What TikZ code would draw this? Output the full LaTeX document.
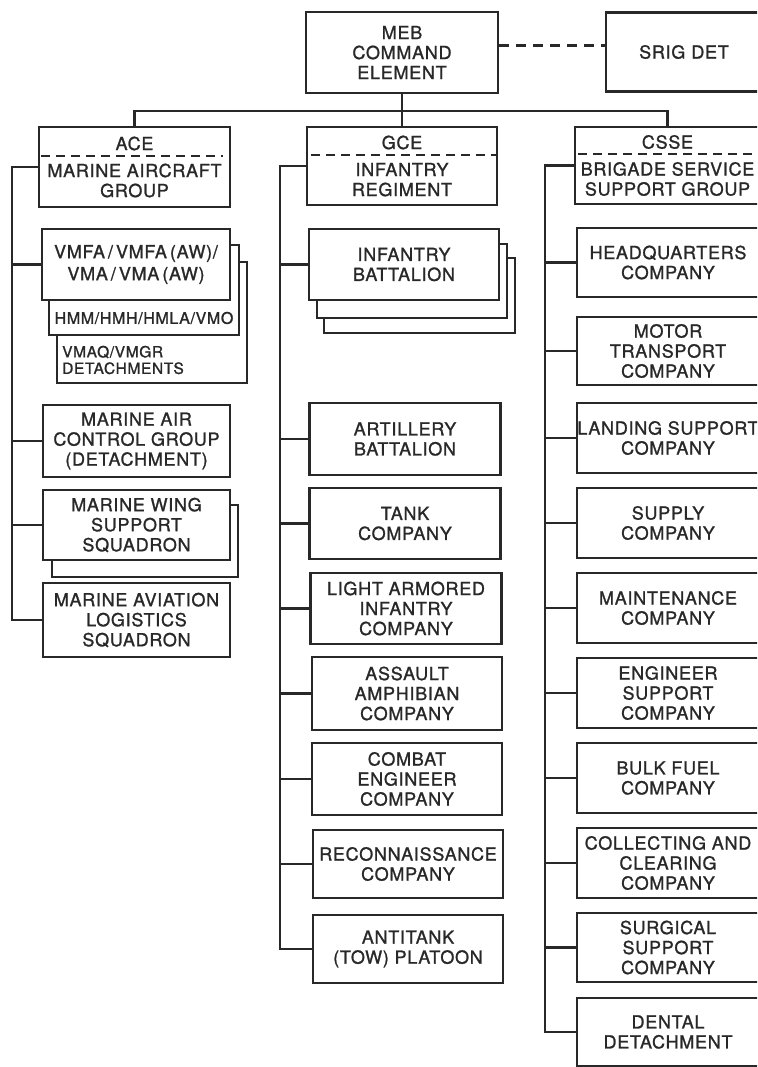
\documentclass[tikz,border=0pt]{standalone}
\usepackage{fontspec}
\setmainfont{TeX Gyre Heros}[FakeBold=1.2, LetterSpace=4]
\definecolor{ink}{RGB}{40,40,40}
\begin{document}
\begin{tikzpicture}[x=1pt,y=-1pt,
  box/.style={draw=ink, line width=2.4pt, fill=white, align=center, inner sep=0pt,
    text=ink, font=\fontsize{18}{20}\selectfont},
  link/.style={draw=ink, line width=2.4pt},
  sep/.style={draw=ink, line width=2pt, dash pattern=on 9pt off 6pt},
  small/.style={text=ink, inner sep=0pt, font=\fontsize{16}{17}\selectfont},
]
\clip (0,0) rectangle (757,1067);
\fill[white] (0,0) rectangle (757,1067);

% ---- command level
\node[box, minimum width=192, minimum height=81] (meb) at (402,52.5) {MEB\\COMMAND\\ELEMENT};
\node[box, minimum width=156, minimum height=79, text width=148, align=center, xshift=-4pt] (srig) at (688,52) {SRIG DET};
\draw[link, dash pattern=on 10pt off 7pt] ([yshift=7pt]meb.east) -- ([yshift=7pt]meb.east -| srig.west);

% ---- major subordinate elements
\node[box, minimum width=191, minimum height=80] (ace) at (134.5,167) {ACE\\[7pt]MARINE AIRCRAFT\\GROUP};
\node[box, minimum width=190, minimum height=78] (gce) at (402,166) {GCE\\[7pt]INFANTRY\\REGIMENT};
\node[box, minimum width=185, minimum height=77] (csse) at (667.5,165.5) {CSSE\\[7pt]BRIGADE SERVICE\\SUPPORT GROUP};
\draw[sep] ([xshift=3pt,yshift=11pt]ace.west) -- ([xshift=-8pt,yshift=11pt]ace.east);
\draw[sep] ([xshift=5pt,yshift=11pt]gce.west) -- ([yshift=11pt]gce.east);
\draw[sep] ([xshift=4pt,yshift=11pt]csse.west) -- ([yshift=11pt]csse.east);

\coordinate (bus) at (402,111);
\draw[link] (meb.south) -- (gce.north);
\draw[link] (ace.north) |- (bus) -| (csse.north);

% ---- aviation combat element
\node[box, minimum width=190, minimum height=121] (vmaq) at (152,322.5) {};
\node[small, anchor=west, align=left, font=\fontsize{15.5}{16.5}\selectfont] (vmaqtxt) at (62,360) {VMAQ/VMGR\\DETACHMENTS};
\node[box, minimum width=190, minimum height=90] (hmm) at (144,290) {};
\node[small] (hmmtxt) at (144,318) {HMM/HMH/HMLA/VMO};
\node[box, minimum width=188, minimum height=71] (vmfa) at (136,264.5) {VMFA\,/\,VMFA\,(AW)/\\[2pt]VMA\,/\,VMA\,(AW)};
\node[box, minimum width=187, minimum height=72] (macg) at (136.5,441) {MARINE AIR\\CONTROL GROUP\\(DETACHMENT)};
\node[box, minimum width=186, minimum height=72] (mwssb) at (145,541) {};
\node[box, minimum width=187, minimum height=70] (mwss) at (136.5,525) {MARINE WING\\SUPPORT\\SQUADRON};
\node[box, minimum width=187, minimum height=74] (mals) at (136.5,620) {MARINE AVIATION\\LOGISTICS\\SQUADRON};

\coordinate (tA) at (12,0);
\draw[link] (ace.west) -- (ace.west -| tA) -- (mals.west -| tA) -- (mals.west);
\foreach \n in {vmfa,macg,mwss} \draw[link] (\n.west -| tA) -- (\n.west);

% ---- ground combat element
\node[box, minimum width=191, minimum height=75] (inf3) at (419.5,295.5) {};
\node[box, minimum width=190, minimum height=74] (inf2) at (412,281) {};
\node[box, minimum width=190, minimum height=71] (inf) at (404,264.5) {INFANTRY\\BATTALION};
\node[box, minimum width=191, minimum height=72] (art) at (405,439) {ARTILLERY\\BATTALION};
\node[box, minimum width=191, minimum height=71] (tank) at (405,523.5) {TANK\\COMPANY};
\node[box, minimum width=191, minimum height=71] (lai) at (406,608.5) {LIGHT ARMORED\\INFANTRY\\COMPANY};
\node[box, minimum width=190, minimum height=73] (aav) at (407,693.5) {ASSAULT\\AMPHIBIAN\\COMPANY};
\node[box, minimum width=190, minimum height=72] (ceng) at (407,779) {COMBAT\\ENGINEER\\COMPANY};
\node[box, minimum width=190, minimum height=68] (recon) at (408,864) {RECONNAISSANCE\\COMPANY};
\node[box, minimum width=190, minimum height=68] (atk) at (408,949) {ANTITANK\\(TOW) PLATOON};

\coordinate (tG) at (280,0);
\draw[link] (gce.west) -- (gce.west -| tG) -- (atk.west -| tG) -- (atk.west);
\foreach \n in {inf,art,tank,lai,aav,ceng,recon} \draw[link] (\n.west -| tG) -- (\n.west);

% ---- combat service support element
\node[box, minimum width=182, minimum height=69] (hq) at (668,262.5) {HEADQUARTERS\\COMPANY};
\node[box, minimum width=182, minimum height=68] (mt) at (668,351) {MOTOR\\TRANSPORT\\COMPANY};
\node[box, minimum width=182, minimum height=70] (ls) at (668,438) {LANDING SUPPORT\\COMPANY};
\node[box, minimum width=182, minimum height=70] (sup) at (668,523) {SUPPLY\\COMPANY};
\node[box, minimum width=182, minimum height=70] (mnt) at (668,608) {MAINTENANCE\\COMPANY};
\node[box, minimum width=182, minimum height=70] (eng) at (668,693) {ENGINEER\\SUPPORT\\COMPANY};
\node[box, minimum width=182, minimum height=70] (bf) at (668,778) {BULK FUEL\\COMPANY};
\node[box, minimum width=182, minimum height=70] (cc) at (668,863) {COLLECTING AND\\CLEARING\\COMPANY};
\node[box, minimum width=182, minimum height=69] (surg) at (668,947.5) {SURGICAL\\SUPPORT\\COMPANY};
\node[box, minimum width=182, minimum height=68] (dent) at (668,1032) {DENTAL\\DETACHMENT};

\coordinate (tC) at (545,0);
\draw[link] (csse.west) -- (csse.west -| tC) -- (dent.west -| tC) -- (dent.west);
\foreach \n in {hq,mt,ls,sup,mnt,eng,bf,cc,surg} \draw[link] (\n.west -| tC) -- (\n.west);
\end{tikzpicture}
\end{document}
